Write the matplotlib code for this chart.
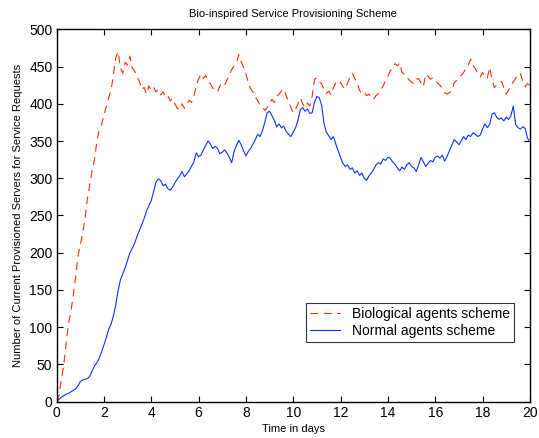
import numpy as np
import matplotlib
matplotlib.use("Agg")
import matplotlib.pyplot as plt

plt.rcParams["font.family"] = ["Liberation Sans", "DejaVu Sans"]

# time axis, one sample every 0.1 day
days = np.round(np.arange(0, 20.05, 0.1), 1)

# Biological agents scheme
bio_servers = [
    0, 8, 30, 48, 78, 104, 120, 142, 166, 195,
    210, 226, 245, 272, 291, 310, 325, 349, 365, 372,
    385, 396, 408, 418, 438, 462, 470, 448, 441, 456,
    452, 464, 448, 444, 436, 430, 419, 422, 413, 424,
    418, 422, 416, 419, 412, 416, 409, 411, 404, 407,
    400, 394, 392, 400, 394, 399, 405, 402, 410, 424,
    433, 440, 434, 438, 430, 427, 421, 420, 416, 424,
    428, 425, 432, 439, 446, 451, 455, 466, 457, 449,
    440, 429, 420, 416, 409, 404, 398, 396, 391, 395,
    401, 406, 402, 410, 413, 417, 420, 411, 403, 395,
    388, 393, 400, 408, 400, 395, 401, 397, 410, 433,
    435, 430, 427, 419, 414, 417, 412, 422, 428, 425,
    429, 423, 420, 428, 436, 441, 434, 429, 418, 414,
    416, 411, 413, 408, 406, 411, 414, 418, 424, 431,
    437, 444, 448, 454, 451, 455, 442, 439, 436, 432,
    429, 427, 433, 434, 428, 423, 440, 437, 433, 435,
    431, 428, 425, 421, 415, 413, 415, 418, 428, 431,
    435, 438, 442, 448, 452, 460, 452, 447, 440, 436,
    442, 437, 434, 449, 433, 422, 425, 428, 430, 422,
    413, 418, 425, 429, 434, 438, 441, 430, 423, 427,
    425,
]

# Normal agents scheme
normal_servers = [
    0, 3, 6, 8, 10, 11, 13, 15, 17, 21,
    27, 29, 30, 31, 34, 41, 48, 52, 58, 67,
    76, 86, 97, 104, 115, 130, 149, 164, 172, 180,
    190, 200, 206, 213, 222, 230, 238, 246, 256, 263,
    270, 282, 295, 299, 297, 290, 292, 286, 284, 288,
    294, 299, 303, 309, 302, 306, 310, 316, 322, 334,
    329, 331, 338, 344, 350, 346, 340, 343, 340, 333,
    335, 338, 334, 328, 321, 336, 344, 351, 345, 337,
    330, 336, 340, 346, 352, 359, 356, 364, 375, 388,
    390, 384, 378, 369, 373, 368, 370, 363, 359, 356,
    362, 368, 378, 392, 395, 390, 393, 387, 388, 402,
    410, 408, 398, 374, 362, 357, 352, 356, 346, 337,
    328, 320, 316, 318, 312, 314, 307, 310, 304, 307,
    300, 297, 303, 307, 312, 318, 321, 319, 326, 324,
    328, 327, 322, 319, 314, 310, 315, 312, 318, 321,
    316, 314, 309, 318, 328, 322, 316, 320, 324, 322,
    328, 330, 327, 331, 323, 329, 337, 344, 352, 349,
    345, 350, 356, 352, 358, 356, 361, 359, 356, 358,
    366, 373, 368, 372, 386, 388, 382, 379, 381, 377,
    382, 379, 384, 397, 372, 368, 366, 369, 367, 354,
    349,
]

x_ticks = [0, 2, 4, 6, 8, 10, 12, 14, 16, 18, 20]
y_ticks = [0, 50, 100, 150, 200, 250, 300, 350, 400, 450, 500]

fig = plt.figure(figsize=(5.39, 4.38), dpi=100)
ax = fig.add_axes([0.105, 0.083, 0.878, 0.850])

ax.plot(days, bio_servers, color="#ff2a00", lw=0.8, linestyle=(0, (7, 5)),
        label="Biological agents scheme")
ax.plot(days, normal_servers, color="#0a32ff", lw=0.8,
        label="Normal agents scheme")

ax.set_xlim(0, 20)
ax.set_ylim(0, 500)
ax.set_xticks(x_ticks)
ax.set_yticks(y_ticks)
ax.tick_params(direction="in", length=4, width=0.8, top=True, right=True,
               labelsize=10, pad=3)
for sp in ax.spines.values():
    sp.set_linewidth(1.0)

ax.set_title("Bio-inspired Service Provisioning Scheme", fontsize=8, pad=9)
ax.set_xlabel("Time in days", fontsize=8, labelpad=3)
ax.set_ylabel("Number of Current Provisioned Servers for Service Requests",
              fontsize=8, labelpad=4)

leg = ax.legend(loc="lower right", bbox_to_anchor=(0.966, 0.161),
                borderaxespad=0, fontsize=10, frameon=True, fancybox=False,
                edgecolor="black", handlelength=2.2, borderpad=0.3,
                labelspacing=0.2, handletextpad=0.8)
leg.get_frame().set_linewidth(0.8)

fig.savefig("out.png", dpi=100)
